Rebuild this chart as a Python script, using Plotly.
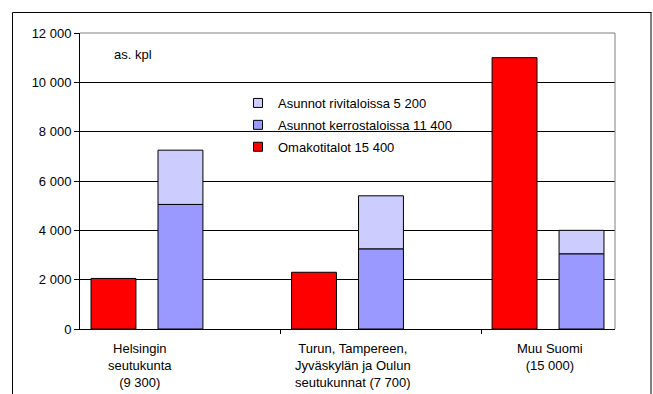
import plotly.graph_objects as go

# ---- data ----
categories = ["Helsingin<br>seutukunta<br>(9 300)",
              "Turun, Tampereen,<br>Jyväskylän ja Oulun<br>seutukunnat (7 700)",
              "Muu Suomi<br>(15 000)"]
omakotitalot = [2050, 2300, 11000]
kerrostalot = [5050, 3250, 3050]
rivitalot = [2200, 2150, 950]
series_names = ["Omakotitalot 15 400", "Asunnot kerrostaloissa 11 400", "Asunnot rivitaloissa 5 200"]
colors = ["#FF0000", "#9999FF", "#CCCCFF"]
y_ticks = [0, 2000, 4000, 6000, 8000, 10000, 12000]

FONT = "Arial, 'Liberation Sans', sans-serif"
idx = list(range(len(categories)))
W = 0.224

fig = go.Figure()
line = dict(color="black", width=1)
fig.add_trace(go.Bar(x=idx, y=omakotitalot, width=W, offset=-0.279,
                     marker=dict(color=colors[0], line=line), showlegend=False))
fig.add_trace(go.Bar(x=idx, y=kerrostalot, width=W, offset=0.055,
                     marker=dict(color=colors[1], line=line), showlegend=False))
fig.add_trace(go.Bar(x=idx, y=rivitalot, base=kerrostalot, width=W, offset=0.055,
                     marker=dict(color=colors[2], line=line), showlegend=False))

# legend entries (top to bottom: rivitalot, kerrostalot, omakotitalot)
for k, i in enumerate([2, 1, 0]):
    fig.add_trace(go.Scatter(x=[None], y=[None], mode="markers", name=series_names[i],
                             legendgroup=f"g{k}",
                             marker=dict(symbol="square", size=9, color=colors[i],
                                         line=dict(color="black", width=1))))

L, R, T, B = 80, 38, 33, 65
PW, PH = 653 - L - R, 394 - T - B

def px_x(p):
    return (p - L) / PW

def px_y(p):
    return (394 - B - p) / PH

frame = dict(color="black", width=1)
shapes = [
    # outer chart frame (left, top, right)
    dict(type="line", xref="paper", yref="paper", x0=px_x(12.5), x1=px_x(12.5),
         y0=px_y(420), y1=px_y(12.5), line=frame),
    dict(type="line", xref="paper", yref="paper", x0=px_x(12.5), x1=px_x(651.5),
         y0=px_y(12.5), y1=px_y(12.5), line=frame),
    dict(type="line", xref="paper", yref="paper", x0=px_x(651), x1=px_x(651),
         y0=px_y(420), y1=px_y(12.5), line=frame),
    # legend background box
    dict(type="rect", xref="paper", yref="paper", x0=px_x(245), x1=px_x(478),
         y0=px_y(172), y1=px_y(88), fillcolor="white", line=dict(width=0), layer="between"),
    # plot area border top/right
    dict(type="line", xref="paper", yref="paper", x0=0, x1=1, y0=1, y1=1,
         line=dict(color="#808080", width=1)),
    dict(type="line", xref="paper", yref="paper", x0=1, x1=1, y0=0, y1=1,
         line=dict(color="#808080", width=1)),
]

annotations = [dict(text="as. kpl", xref="paper", yref="paper", x=px_x(112), y=px_y(54),
                    xanchor="left", yanchor="middle", showarrow=False,
                    font=dict(size=13, color="black", family=FONT))]
xshifts = [-7, 5, 2]
for i, c in enumerate(categories):
    annotations.append(dict(text=c, x=i, xref="x", yref="paper", y=0, yanchor="top",
                            yshift=-10, xshift=xshifts[i], showarrow=False, align="center",
                            font=dict(size=13, color="black", family=FONT)))

fig.update_layout(
    width=653, height=394,
    margin=dict(l=L, r=R, t=T, b=B),
    paper_bgcolor="white", plot_bgcolor="white",
    barmode="overlay",
    separators=", ",
    font=dict(family=FONT, size=13, color="black"),
    showlegend=True,
    legend=dict(x=px_x(238), y=px_y(88), xanchor="left", yanchor="top",
                bgcolor="rgba(0,0,0,0)", traceorder="grouped",
                tracegroupgap=2, font=dict(size=13, family=FONT, color="black")),
    shapes=shapes,
    annotations=annotations,
    xaxis=dict(range=[-0.334, 2.334], tickvals=[0.665, 1.67], ticktext=["", ""],
               ticks="outside", ticklen=4, tickcolor="black", showgrid=False,
               showline=True, linecolor="black", linewidth=1, zeroline=False,
               fixedrange=True),
    yaxis=dict(range=[0, 12000], tickvals=y_ticks, tickformat=",d",
               ticks="outside", ticklen=5, tickcolor="black",
               showgrid=True, gridcolor="black", gridwidth=1,
               showline=True, linecolor="black", linewidth=1, zeroline=False,
               tickfont=dict(size=13, family=FONT, color="black")),
)

fig.write_html("out.html")
